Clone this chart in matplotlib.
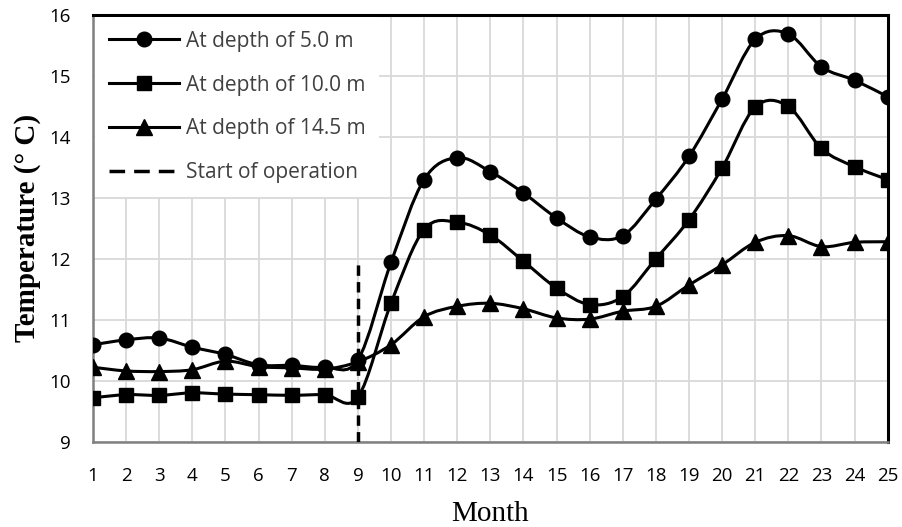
import numpy as np
import matplotlib
matplotlib.use("Agg")
import matplotlib.pyplot as plt
from matplotlib.path import Path
from matplotlib.patches import PathPatch
from matplotlib.lines import Line2D

months = np.arange(1, 26)
depth_5 = [10.59, 10.67, 10.70, 10.55, 10.43, 10.26, 10.25, 10.22, 10.34, 11.94,
           13.30, 13.66, 13.43, 13.08, 12.67, 12.36, 12.38, 12.98, 13.68, 14.62,
           15.60, 15.69, 15.15, 14.93, 14.66]
depth_10 = [9.72, 9.77, 9.76, 9.80, 9.78, 9.77, 9.76, 9.77, 9.73, 11.27,
            12.48, 12.60, 12.39, 11.96, 11.52, 11.25, 11.38, 12.00, 12.64, 13.49,
            14.49, 14.50, 13.81, 13.51, 13.30]
depth_14_5 = [10.22, 10.16, 10.15, 10.18, 10.32, 10.23, 10.21, 10.19, 10.31, 10.59,
              11.05, 11.22, 11.27, 11.18, 11.03, 11.01, 11.14, 11.22, 11.57, 11.90,
              12.27, 12.38, 12.20, 12.27, 12.28]
labels = ["At depth of 5.0 m", "At depth of 10.0 m", "At depth of 14.5 m"]
markers = ["o", "s", "^"]
start_month = 9


def smooth_path(x, y):
    # Excel-like smoothed line: cubic bezier with catmull-rom control points
    p = np.column_stack([x, y]).astype(float)
    n = len(p)
    verts = [p[0]]
    codes = [Path.MOVETO]
    for i in range(n - 1):
        p0 = p[i - 1] if i > 0 else p[i]
        p3 = p[i + 2] if i + 2 < n else p[i + 1]
        c1 = p[i] + (p[i + 1] - p0) / 6.0
        c2 = p[i + 1] - (p3 - p[i]) / 6.0
        verts += [c1, c2, p[i + 1]]
        codes += [Path.CURVE4] * 3
    return Path(verts, codes)


fig = plt.figure(figsize=(9.03, 5.27), dpi=100)
ax = fig.add_axes([0.103, 0.162, 0.880, 0.8095])

lw = 2.2
ms = 10.5
handles = []
for vals, m, lab in zip([depth_5, depth_10, depth_14_5], markers, labels):
    ax.add_patch(PathPatch(smooth_path(months, vals), facecolor="none",
                           edgecolor="black", lw=lw, zorder=3))
    msz = ms + 1 if m == "^" else ms
    ax.plot(months, vals, linestyle="none", marker=m, markersize=msz,
            color="black", zorder=4)
    handles.append(Line2D([], [], color="black", lw=lw, marker=m, markersize=msz))

ax.plot([start_month, start_month], [9, 12], color="black", lw=2.5,
        linestyle=(0, (3.0, 1.8)), zorder=3)
handles.append(Line2D([], [], color="black", lw=2.5, linestyle=(0, (4.5, 2.6))))

ax.set_xlim(1, 25)
ax.set_ylim(9, 16)
ax.set_xticks(months)
ax.set_yticks(range(9, 17))
ax.grid(True, color="#d9d9d9", lw=1.3, zorder=0)
ax.set_axisbelow(True)
ax.tick_params(length=0, labelsize=13.5)
ax.tick_params(axis="y", pad=16)
ax.tick_params(axis="x", pad=18)
for t in ax.get_xticklabels() + ax.get_yticklabels():
    t.set_family("Open Sans")

for s in ["left", "bottom"]:
    ax.spines[s].set_color("#808080")
    ax.spines[s].set_linewidth(1.8)
for s in ["top", "right"]:
    ax.spines[s].set_color("black")
    ax.spines[s].set_linewidth(2.2)

ax.set_ylabel("Temperature (° C)", family="Liberation Serif", fontweight="bold",
              fontsize=21, labelpad=6)
ax.set_xlabel("Month", family="Liberation Serif", fontsize=21, labelpad=12)

leg = ax.legend(handles, labels + ["Start of operation"], loc="upper left",
                bbox_to_anchor=(0.0, 1.0), borderaxespad=0.1,
                prop={"family": "Open Sans", "size": 15},
                handlelength=3.36, handletextpad=0.34, labelspacing=1.1,
                frameon=True, fancybox=False, framealpha=1, borderpad=0.65)
leg.get_frame().set_edgecolor("none")
leg.get_frame().set_facecolor("white")
leg.set_zorder(10)
for t in leg.get_texts():
    t.set_color("#404040")

fig.savefig("out.png", dpi=100)
